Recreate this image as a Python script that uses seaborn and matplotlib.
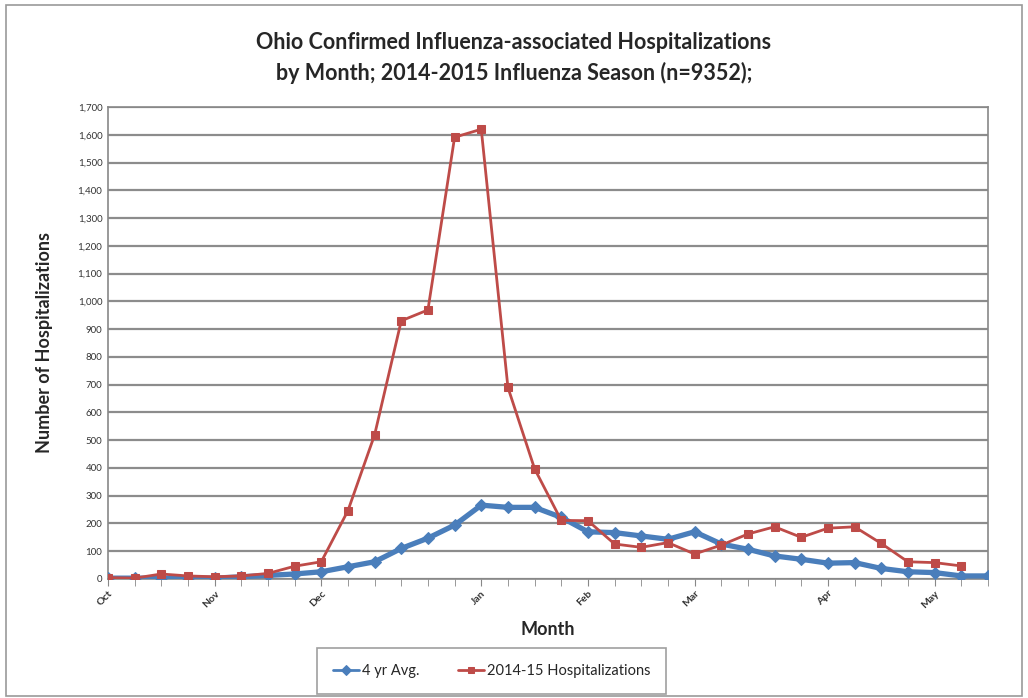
import numpy as np
import pandas as pd
import matplotlib
matplotlib.use('Agg')
import matplotlib.pyplot as plt
import seaborn as sns
from matplotlib.patches import Rectangle
from matplotlib.ticker import FuncFormatter

# weekly values, Oct 2014 - May 2015
avg_4yr = [3, 3, 3, 3, 3, 8, 13, 18, 26, 44, 62, 110, 147, 194, 266, 258, 258,
           222, 170, 167, 155, 143, 170, 126, 107, 83, 71, 57, 59, 38, 26, 23, 11, 11]
hosp_1415 = [5, 3, 18, 11, 8, 11, 20, 46, 62, 246, 519, 930, 969, 1591, 1620, 690,
             397, 211, 210, 126, 114, 131, 90, 122, 162, 188, 150, 183, 188, 128, 62, 59, 47]
month_pos = [0, 4, 8, 14, 18, 22, 27, 31]
month_labels = ['Oct', 'Nov', 'Dec', 'Jan', 'Feb', 'Mar', 'Apr', 'May']

df_avg = pd.DataFrame({'week': np.arange(len(avg_4yr)), 'n': avg_4yr})
df_hosp = pd.DataFrame({'week': np.arange(len(hosp_1415)), 'n': hosp_1415})

sns.set_style('white')
plt.rcParams['font.family'] = ['Lato', 'DejaVu Sans']

fig = plt.figure(figsize=(10.28, 6.98), dpi=100)
ax = fig.add_axes([0.105, 0.1705, 0.856, 0.6762])

blue = '#4A7EBB'
red = '#BE4B48'
sns.lineplot(data=df_avg, x='week', y='n', ax=ax, color=blue, lw=3.8,
             marker='D', markersize=6.5, markeredgecolor=blue, label='4 yr Avg.', zorder=3)
sns.lineplot(data=df_hosp, x='week', y='n', ax=ax, color=red, lw=2,
             marker='s', markersize=5.5, markeredgecolor=red, label='2014-15 Hospitalizations', zorder=4)

ax.set_xlim(0, len(avg_4yr) - 1)
ax.set_ylim(0, 1700)
ax.set_yticks(np.arange(0, 1701, 100))
ax.yaxis.set_major_formatter(FuncFormatter(lambda v, p: f'{int(v):,}'))
ax.set_xticks(np.arange(len(avg_4yr)), minor=True)
ax.set_xticks(month_pos)
ax.set_xticklabels(month_labels, rotation=45, ha='right', rotation_mode='anchor',
                   fontsize=7.5, fontweight='bold', color='#333333')
ax.tick_params(axis='y', labelsize=7, colors='#333333', length=0, pad=4)
ax.tick_params(axis='x', which='both', direction='out', length=5, color='#888888',
               bottom=True, pad=2)
ax.grid(axis='y', color='#8c8c8c', lw=1.6)
ax.set_axisbelow(True)
for s in ax.spines.values():
    s.set_color('#888888')
    s.set_linewidth(1.2)

ax.set_xlabel('Month', fontsize=13, fontweight='bold', labelpad=8)
ax.set_ylabel('Number of Hospitalizations', fontsize=13, fontweight='bold', labelpad=18)

fig.text(0.5, 0.917, 'Ohio Confirmed Influenza-associated Hospitalizations\n'
         'by Month; 2014-2015 Influenza Season (n=9352);',
         ha='center', va='center', fontsize=15.5, fontweight='bold', linespacing=1.45)

leg = ax.legend(loc='upper center', bbox_to_anchor=(0.436, -0.146), ncol=2,
                frameon=True, fancybox=False, edgecolor='#888888', fontsize=10.5,
                handlelength=1.8, handletextpad=0.2, columnspacing=2.6, borderpad=1.1,
                borderaxespad=0)
leg.get_frame().set_linewidth(1.2)
for h in leg.legend_handles:
    h.set_linewidth(2)
    h.set_markersize(5)

fig.patches.append(Rectangle((0.006, 0.003), 0.988, 0.99, transform=fig.transFigure,
                             fill=False, edgecolor='#999999', lw=1.2))

fig.savefig('out.png', dpi=100)
